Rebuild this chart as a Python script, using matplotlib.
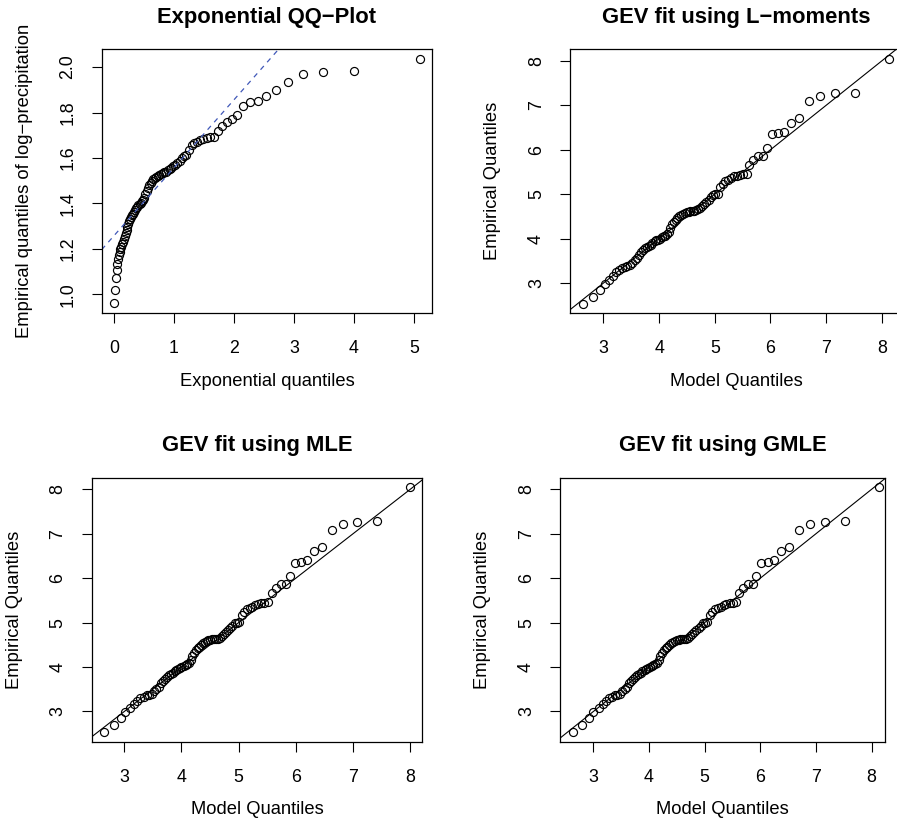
import matplotlib
matplotlib.use("Agg")
import matplotlib.pyplot as plt

plt.rcParams['font.family'] = ['Liberation Sans', 'DejaVu Sans']

# exponential QQ-plot: theoretical quantiles vs sorted log-precipitation
exp_q = [0.006, 0.019, 0.031, 0.044, 0.056, 0.069, 0.083, 0.096, 0.109, 0.123,
         0.137, 0.151, 0.165, 0.180, 0.195, 0.210, 0.225, 0.240, 0.256, 0.272,
         0.288, 0.304, 0.321, 0.338, 0.355, 0.372, 0.390, 0.409, 0.427, 0.446,
         0.465, 0.485, 0.505, 0.525, 0.546, 0.567, 0.589, 0.611, 0.634, 0.657,
         0.681, 0.706, 0.731, 0.756, 0.783, 0.810, 0.837, 0.866, 0.895, 0.926,
         0.957, 0.989, 1.022, 1.057, 1.093, 1.130, 1.168, 1.208, 1.250, 1.293,
         1.339, 1.386, 1.436, 1.489, 1.545, 1.603, 1.666, 1.733, 1.804, 1.881,
         1.964, 2.055, 2.155, 2.267, 2.392, 2.535, 2.702, 2.903, 3.154, 3.490,
         4.001, 5.100]
log_precip = [0.962, 1.018, 1.074, 1.108, 1.135, 1.155, 1.172, 1.186, 1.198, 1.208,
              1.220, 1.232, 1.245, 1.258, 1.272, 1.285, 1.298, 1.310, 1.322, 1.332,
              1.340, 1.348, 1.355, 1.362, 1.370, 1.378, 1.385, 1.392, 1.398, 1.404,
              1.410, 1.416, 1.425, 1.440, 1.456, 1.470, 1.480, 1.490, 1.498, 1.506,
              1.512, 1.518, 1.523, 1.527, 1.531, 1.534, 1.537, 1.540, 1.545, 1.550,
              1.556, 1.563, 1.570, 1.578, 1.588, 1.600, 1.610, 1.615, 1.635, 1.655,
              1.665, 1.672, 1.680, 1.685, 1.690, 1.692, 1.694, 1.718, 1.740, 1.759,
              1.772, 1.787, 1.828, 1.847, 1.852, 1.872, 1.897, 1.934, 1.969, 1.979,
              1.984, 2.035]
qq_intercept = 1.258
qq_slope = 0.299

# GEV QQ-plots: sorted data vs model quantiles of the three fits
emp_q = [2.54, 2.69, 2.85, 2.99, 3.08, 3.17, 3.24, 3.30, 3.33, 3.36,
         3.38, 3.40, 3.45, 3.51, 3.56, 3.63, 3.69, 3.74, 3.78, 3.81,
         3.84, 3.86, 3.90, 3.94, 3.96, 3.98, 4.00, 4.03, 4.05, 4.07,
         4.10, 4.16, 4.24, 4.32, 4.38, 4.42, 4.46, 4.50, 4.53, 4.56,
         4.58, 4.60, 4.61, 4.62, 4.63, 4.63, 4.64, 4.66, 4.70, 4.74,
         4.78, 4.83, 4.88, 4.93, 4.98, 5.00, 5.01, 5.17, 5.24, 5.30,
         5.33, 5.36, 5.40, 5.42, 5.44, 5.45, 5.46, 5.66, 5.77, 5.86,
         5.86, 6.05, 6.35, 6.37, 6.41, 6.61, 6.71, 7.09, 7.21, 7.27,
         7.28, 8.04]
lmom_q = [2.63, 2.81, 2.93, 3.02, 3.10, 3.17, 3.23, 3.28, 3.34, 3.39,
          3.43, 3.48, 3.52, 3.56, 3.60, 3.64, 3.67, 3.71, 3.75, 3.78,
          3.82, 3.85, 3.88, 3.92, 3.95, 3.98, 4.01, 4.05, 4.08, 4.11,
          4.14, 4.17, 4.20, 4.24, 4.27, 4.30, 4.33, 4.36, 4.40, 4.43,
          4.46, 4.50, 4.53, 4.56, 4.60, 4.63, 4.67, 4.70, 4.74, 4.77,
          4.81, 4.85, 4.89, 4.93, 4.97, 5.01, 5.05, 5.10, 5.14, 5.19,
          5.24, 5.29, 5.34, 5.39, 5.45, 5.50, 5.57, 5.62, 5.68, 5.77,
          5.86, 5.94, 6.03, 6.13, 6.25, 6.37, 6.52, 6.69, 6.89, 7.15,
          7.52, 8.13]
mle_q = [2.65, 2.82, 2.94, 3.02, 3.10, 3.17, 3.23, 3.28, 3.34, 3.39,
         3.43, 3.48, 3.52, 3.56, 3.60, 3.64, 3.67, 3.71, 3.75, 3.78,
         3.82, 3.85, 3.88, 3.91, 3.94, 3.97, 4.00, 4.04, 4.07, 4.10,
         4.13, 4.16, 4.19, 4.22, 4.25, 4.28, 4.31, 4.34, 4.38, 4.41,
         4.44, 4.47, 4.50, 4.53, 4.57, 4.60, 4.63, 4.67, 4.70, 4.74,
         4.77, 4.81, 4.85, 4.89, 4.93, 4.97, 5.01, 5.05, 5.09, 5.14,
         5.19, 5.23, 5.28, 5.34, 5.39, 5.45, 5.52, 5.59, 5.66, 5.74,
         5.82, 5.90, 5.99, 6.09, 6.20, 6.32, 6.46, 6.63, 6.82, 7.07,
         7.41, 8.00]
gmle_q = [2.63, 2.80, 2.92, 3.00, 3.10, 3.17, 3.23, 3.28, 3.34, 3.39,
          3.43, 3.48, 3.52, 3.56, 3.60, 3.64, 3.67, 3.71, 3.75, 3.78,
          3.82, 3.85, 3.88, 3.92, 3.95, 3.98, 4.01, 4.05, 4.08, 4.11,
          4.14, 4.17, 4.20, 4.24, 4.27, 4.30, 4.33, 4.36, 4.40, 4.43,
          4.46, 4.50, 4.53, 4.56, 4.60, 4.63, 4.67, 4.70, 4.74, 4.77,
          4.81, 4.85, 4.89, 4.93, 4.97, 5.01, 5.05, 5.10, 5.14, 5.19,
          5.24, 5.29, 5.34, 5.39, 5.45, 5.50, 5.57, 5.62, 5.68, 5.77,
          5.86, 5.93, 6.01, 6.13, 6.24, 6.37, 6.52, 6.69, 6.89, 7.16,
          7.52, 8.13]

W, H = 897, 822
fig = plt.figure(figsize=(W / 100, H / 100), dpi=100)


def add_panel(left, top, right, bottom):
    # box given in pixels from the top-left corner
    ax = fig.add_axes([left / W, 1 - bottom / H, (right - left) / W, (bottom - top) / H])
    w, h = right - left, bottom - top
    for s in ax.spines.values():
        s.set_linewidth(0.9)
    ax.tick_params(direction='out', length=7.2, width=0.8, labelsize=12.8)
    ax.tick_params(axis='x', pad=12.2)
    ax.tick_params(axis='y', labelrotation=90, pad=17)
    ax.xaxis.set_label_coords(0.5, -59.7 / h)
    ax.yaxis.set_label_coords(-69 / w, 0.5)
    return ax


def finish(ax, title, xlabel, ylabel, xlim, ylim, xticks, yticks, yfmt='%g'):
    ax.set_xlim(xlim)
    ax.set_ylim(ylim)
    ax.set_xticks(xticks)
    ax.set_yticks(yticks)
    ax.set_yticklabels([yfmt % v for v in yticks])
    plt.setp(ax.get_yticklabels(), ha='center', va='center')
    ax.set_title(title, fontsize=15.8, fontweight='bold', pad=19.2)
    ax.set_xlabel(xlabel, fontsize=13.2)
    ax.set_ylabel(ylabel, fontsize=13.2)


pt = dict(linestyle='none', marker='o', mfc='none', mec='black', ms=5.8, mew=0.85)

# top-left
ax1 = add_panel(101.7, 49.3, 432.3, 313.3)
ax1.plot(exp_q, log_precip, **pt)
ax1.axline((0, qq_intercept), slope=qq_slope, color='#4058b8', lw=0.9, dashes=(4, 4))
finish(ax1, 'Exponential QQ\u2212Plot', 'Exponential quantiles',
       'Empirical quantiles of log\u2212precipitation',
       (-0.204, 5.304), (0.917, 2.078), [0, 1, 2, 3, 4, 5],
       [1.0, 1.2, 1.4, 1.6, 1.8, 2.0], '%.1f')

gev_ticks = [3, 4, 5, 6, 7, 8]

# top-right (right edge falls just outside the picture, as in the original)
ax2 = add_panel(570, 49.3, 903, 313.3)
ax2.plot(lmom_q, emp_q, **pt)
ax2.axline((0, 0), slope=1, color='black', lw=0.8)
finish(ax2, 'GEV fit using L\u2212moments', 'Model Quantiles', 'Empirical Quantiles',
       (2.40, 8.38), (2.32, 8.26), gev_ticks, gev_ticks)

# bottom-left
ax3 = add_panel(91.7, 477.7, 422.3, 741.7)
ax3.plot(mle_q, emp_q, **pt)
ax3.axline((0, 0), slope=1, color='black', lw=0.8)
finish(ax3, 'GEV fit using MLE', 'Model Quantiles', 'Empirical Quantiles',
       (2.43, 8.21), (2.32, 8.26), gev_ticks, gev_ticks)

# bottom-right
ax4 = add_panel(560, 477.7, 885, 741.7)
ax4.plot(gmle_q, emp_q, **pt)
ax4.axline((0, 0), slope=1, color='black', lw=0.8)
finish(ax4, 'GEV fit using GMLE', 'Model Quantiles', 'Empirical Quantiles',
       (2.40, 8.24), (2.32, 8.26), gev_ticks, gev_ticks)

fig.savefig('out.png', dpi=100)
